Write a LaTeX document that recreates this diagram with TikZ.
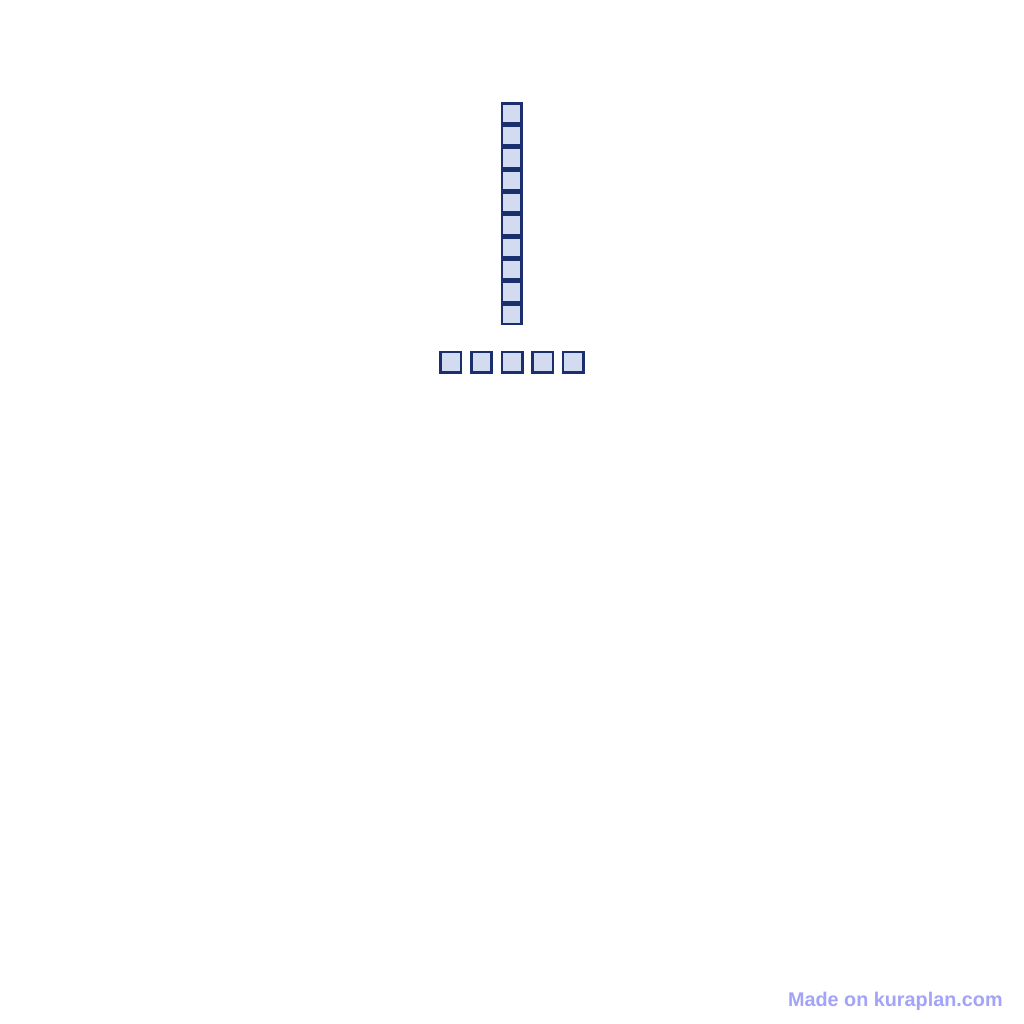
\documentclass[tikz,border=0pt]{standalone}
\usepackage{fontspec}
\setmainfont{Liberation Sans}
\definecolor{boxline}{HTML}{1B2F6E}
\definecolor{boxfill}{HTML}{D3DBF0}
\definecolor{marktext}{HTML}{A3A3F7}
\begin{document}
\begin{tikzpicture}[x=1pt,y=-1pt,
  cell/.style={draw=boxline,fill=boxfill,line width=2.5pt,rectangle,minimum size=19.8pt,inner sep=0pt},
  watermark/.style={text=marktext,font=\bfseries\fontsize{19.8}{22}\selectfont,inner sep=0pt,anchor=base east}]
\useasboundingbox[fill=white] (0,0) rectangle (1024,1024);
\foreach \i in {0,...,9}{
  \node[cell] (v\i) at (511.8,{113.45+22.3*\i}) {};
}
\foreach \i in {0,...,4}{
  \node[cell,minimum size=20.4pt] (h\i) at ({450.8+30.65*\i},362.2) {};
}
\node[watermark] (wm) at (1002.8,1006) {Made on kuraplan.com};
\end{tikzpicture}
\end{document}
